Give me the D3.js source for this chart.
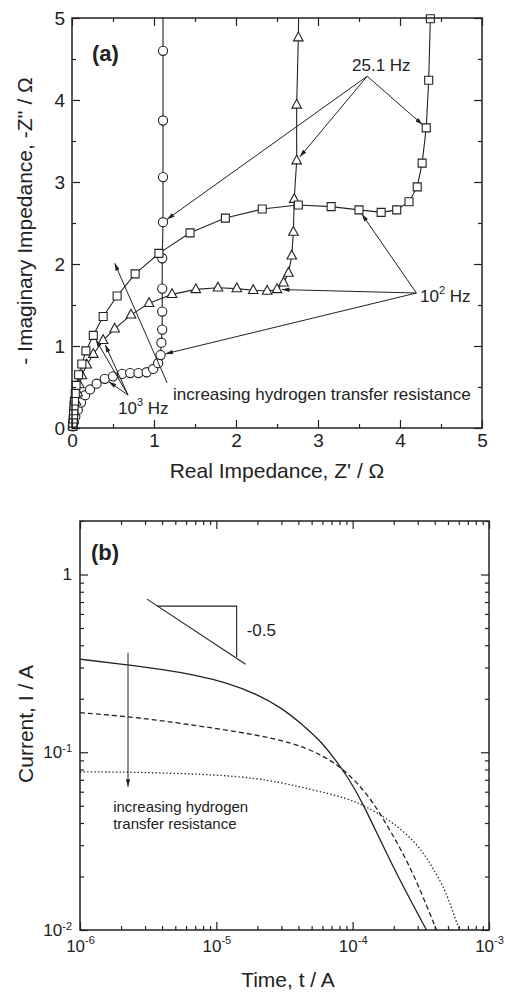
<!DOCTYPE html>
<html>
<head>
<meta charset="utf-8">
<script src="https://cdn.jsdelivr.net/npm/d3@7"></script>
<style>
  body { margin: 0; background: #fff; }
</style>
</head>
<body>
<div id="chart"></div>
<script>
// ---- data: panel (a), Nyquist plots [Z', -Z''] ----
const circleSeries = [
    [0.01, 0.02], [0.02, 0.07], [0.04, 0.14], [0.07, 0.22], [0.11, 0.31], [0.16, 0.40],
    [0.22, 0.47], [0.30, 0.54], [0.40, 0.60], [0.50, 0.63], [0.61, 0.66], [0.71, 0.67],
    [0.81, 0.67], [0.91, 0.68], [0.99, 0.72], [1.05, 0.79], [1.08, 0.89], [1.09, 1.04],
    [1.10, 1.20], [1.10, 1.42], [1.10, 1.70], [1.10, 2.07], [1.11, 2.51], [1.11, 3.06],
    [1.11, 3.75], [1.11, 4.60], [1.11, 5.40]
];
const triangleSeries = [
    [0.01, 0.03], [0.02, 0.10], [0.03, 0.20], [0.05, 0.32], [0.07, 0.43], [0.09, 0.53],
    [0.12, 0.64], [0.18, 0.77], [0.26, 0.90], [0.38, 1.07], [0.52, 1.21], [0.72, 1.38],
    [0.94, 1.52], [1.22, 1.63], [1.51, 1.69], [1.78, 1.71], [2.01, 1.70], [2.21, 1.68],
    [2.38, 1.67], [2.50, 1.69], [2.58, 1.77], [2.64, 1.89], [2.68, 2.10], [2.70, 2.39],
    [2.71, 2.79], [2.74, 3.26], [2.74, 3.94], [2.76, 4.76], [2.77, 5.40]
];
const squareSeries = [
    [0.01, 0.02], [0.01, 0.06], [0.015, 0.11], [0.02, 0.16], [0.02, 0.21], [0.025, 0.27],
    [0.03, 0.33], [0.04, 0.42], [0.05, 0.52], [0.08, 0.65], [0.12, 0.78], [0.17, 0.94],
    [0.26, 1.13], [0.38, 1.36], [0.55, 1.61], [0.77, 1.88], [1.06, 2.13], [1.44, 2.38],
    [1.87, 2.56], [2.32, 2.67], [2.76, 2.72], [3.16, 2.70], [3.50, 2.66], [3.77, 2.63],
    [3.96, 2.66], [4.11, 2.76], [4.21, 2.94], [4.27, 3.23], [4.32, 3.66], [4.35, 4.24],
    [4.37, 4.99], [4.38, 5.40]
];
const zTicks = [0, 1, 2, 3, 4, 5];
const zMinorTicks = [0.5, 1.5, 2.5, 3.5, 4.5];

// ---- data: panel (b), current transients [t, I] ----
const solidCurve = [
    [1e-6, 0.334], [2e-6, 0.313], [4e-6, 0.293], [7e-6, 0.272], [1.2e-5, 0.246],
    [2e-5, 0.212], [3e-5, 0.178], [4.2e-5, 0.145], [5.73e-5, 0.117], [7.13e-5, 0.095],
    [9e-5, 0.0746], [1.18e-4, 0.0526], [1.96e-4, 0.0227], [3.48e-4, 0.01]
];
const dashedCurve = [
    [1e-6, 0.167], [2.25e-6, 0.159], [5e-6, 0.147], [1e-5, 0.136], [2e-5, 0.125],
    [3.63e-5, 0.113], [5.73e-5, 0.098], [8.45e-5, 0.0816], [1.27e-4, 0.059],
    [1.66e-4, 0.0428], [2.21e-4, 0.0294], [2.94e-4, 0.019], [4.12e-4, 0.01]
];
const dottedCurve = [
    [1e-6, 0.0775], [2.2e-6, 0.0775], [1.32e-5, 0.0746], [2.92e-5, 0.068], [5.09e-5, 0.0614],
    [9.03e-5, 0.0554], [1.27e-4, 0.0493], [1.96e-4, 0.0406], [2.94e-4, 0.0309],
    [3.85e-4, 0.0227], [4.89e-4, 0.0162], [5.78e-4, 0.011], [6.1e-4, 0.01]
];
const timeTicks = [1e-6, 1e-5, 1e-4, 1e-3];
const currentTicks = [0.01, 0.1, 1];

// ---- layout ----
const width = 505;
const height = 992;
const ink = "#222";
const font = "'Liberation Sans', Arial, Helvetica, sans-serif";

const svg = d3.select("#chart")
    .append("svg")
    .attr("width", width)
    .attr("height", height)
    .style("font-family", font);

svg.append("rect").attr("width", width).attr("height", height).attr("fill", "#fff");

const defs = svg.append("defs");
defs.append("marker")
    .attr("id", "arrow")
    .attr("viewBox", "0 0 10 6")
    .attr("refX", 10)
    .attr("refY", 3)
    .attr("markerWidth", 8)
    .attr("markerHeight", 4.5)
    .attr("markerUnits", "userSpaceOnUse")
    .attr("orient", "auto")
    .append("path")
    .attr("d", "M0,0L10,3L0,6Z")
    .attr("fill", ink);

// minor ticks for log axes (2..9 per decade)
const logMinor = (lo, hi) => {
    const out = [];
    for (let d = lo; d < hi * 0.999; d *= 10) {
        for (let k = 2; k <= 9; k++) if (d * k <= hi * 1.001) out.push(d * k);
    }
    return out;
};

// draws ticks on all four sides, pointing inward
function drawFrame(g, x, y, xMajor, xMinor, yMajor, yMinor, opts) {
    const [x0, x1] = x.range();
    const [y0, y1] = y.range(); // y0 bottom, y1 top
    const major = 8, minor = 4;
    const style = sel => {
        sel.select(".domain").remove();
        sel.selectAll("line").attr("stroke", ink).attr("stroke-width", 1.2);
        sel.attr("font-family", font).attr("font-size", opts.tickFont).attr("fill", ink);
        sel.selectAll("text").attr("fill", ink);
    };

    const bottom = g.append("g").attr("transform", `translate(0,${y0})`)
        .call(d3.axisBottom(x).tickValues(xMajor).tickSize(-major).tickPadding(opts.xPad).tickFormat(opts.xFormat))
        .call(style);
    g.append("g").attr("transform", `translate(0,${y0})`)
        .call(d3.axisBottom(x).tickValues(xMinor).tickSize(-minor).tickFormat(""))
        .call(style);
    g.append("g").attr("transform", `translate(0,${y1})`)
        .call(d3.axisTop(x).tickValues(xMajor).tickSize(-major).tickFormat(""))
        .call(style);
    g.append("g").attr("transform", `translate(0,${y1})`)
        .call(d3.axisTop(x).tickValues(xMinor).tickSize(-minor).tickFormat(""))
        .call(style);

    const left = g.append("g").attr("transform", `translate(${x0},0)`)
        .call(d3.axisLeft(y).tickValues(yMajor).tickSize(-major).tickPadding(opts.yPad).tickFormat(opts.yFormat))
        .call(style);
    g.append("g").attr("transform", `translate(${x0},0)`)
        .call(d3.axisLeft(y).tickValues(yMinor).tickSize(-minor).tickFormat(""))
        .call(style);
    g.append("g").attr("transform", `translate(${x1},0)`)
        .call(d3.axisRight(y).tickValues(yMajor).tickSize(-major).tickFormat(""))
        .call(style);
    g.append("g").attr("transform", `translate(${x1},0)`)
        .call(d3.axisRight(y).tickValues(yMinor).tickSize(-minor).tickFormat(""))
        .call(style);

    g.append("rect")
        .attr("x", x0).attr("y", y1)
        .attr("width", x1 - x0).attr("height", y0 - y1)
        .attr("fill", "none").attr("stroke", ink).attr("stroke-width", 1.5);

    return { bottom, left };
}

// turn "1e-5" style labels into 10 with a superscript
function powerLabels(axisG, supDy) {
    axisG.selectAll(".tick text").each(function (d) {
        const e = Math.round(Math.log10(d));
        const t = d3.select(this).text(null);
        if (e === 0) { t.text("1"); return; }
        t.append("tspan").text("10");
        t.append("tspan").attr("dy", supDy).attr("font-size", 11).text(e);
    });
}

// arrow from a point to a target, stopped short of the marker
function arrow(g, from, to, gap) {
    const dx = to[0] - from[0], dy = to[1] - from[1];
    const len = Math.hypot(dx, dy);
    g.append("line")
        .attr("x1", from[0]).attr("y1", from[1])
        .attr("x2", to[0] - dx / len * gap).attr("y2", to[1] - dy / len * gap)
        .attr("stroke", ink).attr("stroke-width", 1)
        .attr("marker-end", "url(#arrow)");
}

// ================= panel (a) =================
const xA = d3.scaleLinear().domain([0, 5]).range([72, 482]);
const yA = d3.scaleLinear().domain([0, 5]).range([428, 18]);
const gA = svg.append("g");

defs.append("clipPath").attr("id", "clipA")
    .append("rect").attr("x", 72).attr("y", 18).attr("width", 410).attr("height", 410);

const lineA = d3.line().x(d => xA(d[0])).y(d => yA(d[1]));
const seriesA = [
    { data: circleSeries, shape: "circle" },
    { data: triangleSeries, shape: "triangle" },
    { data: squareSeries, shape: "square" }
];

const plotA = gA.append("g").attr("clip-path", "url(#clipA)");
seriesA.forEach(s => {
    plotA.append("path")
        .attr("d", lineA(s.data))
        .attr("fill", "none")
        .attr("stroke", ink)
        .attr("stroke-width", 1.1);
});

const markerPath = {
    circle: d3.symbol(d3.symbolCircle, Math.PI * 4.6 * 4.6)(),
    square: "M-4,-4H4V4H-4Z",
    triangle: "M0,-5.6L4.8,3.2H-4.8Z"
};
seriesA.forEach(s => {
    gA.append("g")
        .selectAll("path")
        .data(s.data.filter(d => d[1] <= 5))
        .join("path")
        .attr("transform", d => `translate(${xA(d[0])},${yA(d[1])})`)
        .attr("d", markerPath[s.shape])
        .attr("fill", "#fff")
        .attr("stroke", ink)
        .attr("stroke-width", 1.1);
});

drawFrame(gA, xA, yA, zTicks, zMinorTicks, zTicks, zMinorTicks, {
    tickFont: 19, xPad: 6, yPad: 7, xFormat: d3.format("d"), yFormat: d3.format("d")
});

// frequency call-outs
const freqNotes = [
    { from: [3.60, 4.29], targets: [[1.11, 2.51], [2.74, 3.26], [4.32, 3.66]] },
    { from: [4.20, 1.646], targets: [[3.50, 2.66], [2.50, 1.69], [1.08, 0.89]] },
    { from: [0.683, 0.402], targets: [[0.26, 1.13], [0.38, 1.07], [0.40, 0.60]] }
];
freqNotes.forEach(n => {
    n.targets.forEach(t => arrow(gA, [xA(n.from[0]), yA(n.from[1])], [xA(t[0]), yA(t[1])], 5));
});

const noteA = gA.append("g").attr("fill", ink).attr("font-size", 17);
noteA.append("text").attr("x", 352).attr("y", 71).text("25.1 Hz");

const hz2 = noteA.append("text").attr("x", 420).attr("y", 302);
hz2.append("tspan").text("10");
hz2.append("tspan").attr("dy", -8).attr("font-size", 11).text("2");
hz2.append("tspan").attr("dy", 8).text(" Hz");

const hz3 = noteA.append("text").attr("x", 118).attr("y", 414);
hz3.append("tspan").text("10");
hz3.append("tspan").attr("dy", -8).attr("font-size", 11).text("3");
hz3.append("tspan").attr("dy", 8).text(" Hz");

noteA.append("text").attr("x", 173).attr("y", 400).text("increasing hydrogen transfer resistance");
arrow(gA, [xA(1.16), yA(0.55)], [xA(0.52), yA(2.01)], 0);

gA.append("text").attr("x", 92).attr("y", 61)
    .attr("font-size", 22).attr("font-weight", "bold").attr("fill", ink).text("(a)");

gA.append("text")
    .attr("x", 277).attr("y", 478)
    .attr("text-anchor", "middle").attr("font-size", 21).attr("fill", ink)
    .text("Real Impedance, Z' / Ω");
gA.append("text")
    .attr("transform", "translate(32,221) rotate(-90)")
    .attr("text-anchor", "middle").attr("font-size", 21).attr("fill", ink)
    .text("- Imaginary Impedance, -Z'' / Ω");

// ================= panel (b) =================
const xB = d3.scaleLog().domain([1e-6, 1e-3]).range([80, 489]);
const yB = d3.scaleLog().domain([0.01, 2]).range([930, 521]);
const gB = svg.append("g");

defs.append("clipPath").attr("id", "clipB")
    .append("rect").attr("x", 80).attr("y", 521).attr("width", 409).attr("height", 409);

const lineB = d3.line().x(d => xB(d[0])).y(d => yB(d[1])).curve(d3.curveBasis);
const curvesB = [
    { data: solidCurve, dash: null },
    { data: dashedCurve, dash: "5,3" },
    { data: dottedCurve, dash: "1.4,2.2" }
];
const plotB = gB.append("g").attr("clip-path", "url(#clipB)");
curvesB.forEach(c => {
    plotB.append("path")
        .attr("d", lineB(c.data))
        .attr("fill", "none")
        .attr("stroke", ink)
        .attr("stroke-width", 1.3)
        .attr("stroke-dasharray", c.dash);
});

const axesB = drawFrame(gB, xB, yB, timeTicks, logMinor(1e-6, 1e-3), currentTicks, logMinor(0.01, 2), {
    tickFont: 17, xPad: 10, yPad: 8, xFormat: d => d, yFormat: d => d
});
powerLabels(axesB.bottom, -8);
powerLabels(axesB.left, -6);

// slope triangle
const slope = gB.append("g").attr("stroke", ink).attr("stroke-width", 1.1).attr("fill", "none");
slope.append("line")
    .attr("x1", xB(3.1e-6)).attr("y1", yB(0.727))
    .attr("x2", xB(1.64e-5)).attr("y2", yB(0.313));
slope.append("polyline")
    .attr("points", [[xB(3.66e-6), yB(0.664)], [xB(1.41e-5), yB(0.664)], [xB(1.41e-5), yB(0.343)]].join(" "));
gB.append("text").attr("x", xB(1.67e-5)).attr("y", yB(0.45))
    .attr("font-size", 17).attr("fill", ink).text("-0.5");

arrow(gB, [xB(2.25e-6), yB(0.363)], [xB(2.25e-6), yB(0.064)], 0);
const noteB = gB.append("text").attr("font-size", 15).attr("fill", ink);
noteB.append("tspan").attr("x", xB(1.75e-6)).attr("y", yB(0.0464)).text("increasing hydrogen");
noteB.append("tspan").attr("x", xB(1.75e-6)).attr("y", yB(0.0369)).text("transfer resistance");

gB.append("text").attr("x", 91).attr("y", 560)
    .attr("font-size", 22).attr("font-weight", "bold").attr("fill", ink).text("(b)");

gB.append("text")
    .attr("x", 288).attr("y", 987)
    .attr("text-anchor", "middle").attr("font-size", 21).attr("fill", ink)
    .text("Time, t / A");
gB.append("text")
    .attr("transform", "translate(33,724) rotate(-90)")
    .attr("text-anchor", "middle").attr("font-size", 21).attr("fill", ink)
    .text("Current, I / A");
</script>
</body>
</html>
